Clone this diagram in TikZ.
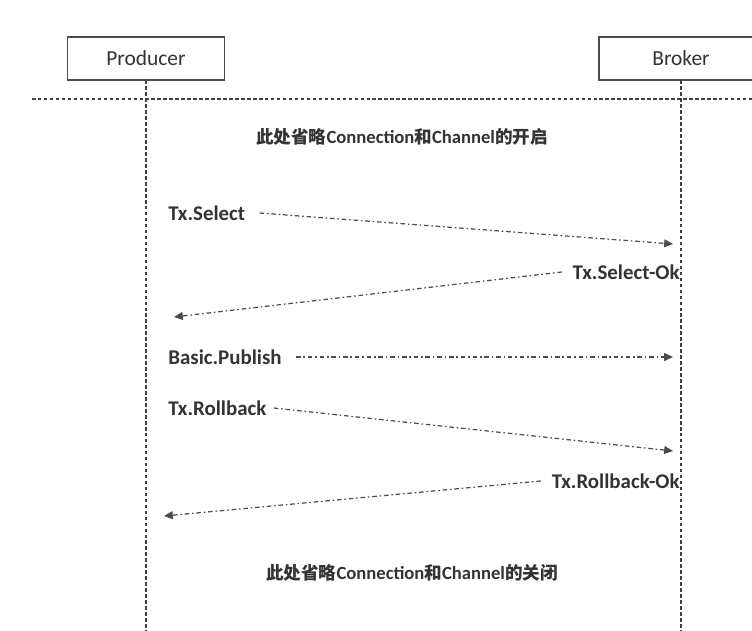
\documentclass[tikz,border=0pt]{standalone}
\usepackage{fontspec}
\setmainfont{Carlito}
\newfontfamily\cjk{Noto Sans CJK SC}
\usetikzlibrary{arrows.meta}

\tikzset{
  actorbox/.style={draw=black!70, line width=0.6pt, minimum height=0.86cm, inner sep=0pt, font=\fontsize{12.2}{14}\selectfont\color{black!80}},
  lifeline/.style={draw=black!75, line width=0.6pt, dash pattern=on 2pt off 1.4pt},
  msg/.style={draw=black!70, line width=0.7pt, dash pattern=on 2.6pt off 1.6pt on 0.9pt off 1.6pt, -{Triangle[length=5pt,width=4.5pt]}},
  msglabel/.style={inner sep=0pt, font=\fontsize{11.9}{14}\selectfont\bfseries\color{black!80}},
  notelabel/.style={inner sep=0pt, font=\fontsize{10.6}{13}\selectfont\bfseries\color{black!80}},
}

\begin{document}
\begin{tikzpicture}[x=0.02cm, y=-0.02cm]
  \useasboundingbox (0,0) rectangle (752,631);
  % lifeline heads
  \node[actorbox, minimum width=3.14cm] (producer) at (146,58.5) {Producer};
  \node[actorbox, minimum width=3.28cm] (broker) at (681,58.5) {Broker};
  \coordinate (pend) at (146,631);
  \coordinate (bend) at (681,631);
  \draw[lifeline] (producer.south) -- (pend);
  \draw[lifeline] (broker.south) -- (bend);
  % separator
  \coordinate (sepl) at (32,99);
  \coordinate (sepr) at (752,99);
  \draw[lifeline] (sepl) -- (sepr);

  \node[notelabel] (open) at (402,137) {{\cjk\fontsize{10}{13}\selectfont 此处省略}Connection{\cjk\fontsize{10}{13}\selectfont 和}Channel{\cjk\fontsize{10}{13}\selectfont 的开启}};

  % Tx.Select
  \node[msglabel, anchor=west] (sel) at (168,213) {Tx.Select};
  \coordinate (selend) at (673,244);
  \draw[msg] ([xshift=8pt]sel.east) -- (selend);

  \node[msglabel, anchor=east] (selok) at (680,272) {Tx.Select-Ok};
  \coordinate (selokend) at (174,317);
  \draw[msg] ([xshift=-6pt]selok.west) -- (selokend);

  % publish
  \node[msglabel, anchor=west] (pub) at (168,357) {Basic.Publish};
  \coordinate (pubend) at (673,357);
  \draw[msg] ([xshift=8pt]pub.east) -- (pubend);

  % rollback
  \node[msglabel, anchor=west] (rb) at (168,408) {Tx.Rollback};
  \coordinate (rbend) at (673,451);
  \draw[msg] ([xshift=4pt]rb.east) -- (rbend);

  \node[msglabel, anchor=east] (rbok) at (680,481) {Tx.Rollback-Ok};
  \coordinate (rbokend) at (164,516);
  \draw[msg] ([xshift=-6pt]rbok.west) -- (rbokend);

  \node[notelabel] (close) at (412,573) {{\cjk\fontsize{10}{13}\selectfont 此处省略}Connection{\cjk\fontsize{10}{13}\selectfont 和}Channel{\cjk\fontsize{10}{13}\selectfont 的关闭}};
\end{tikzpicture}
\end{document}
